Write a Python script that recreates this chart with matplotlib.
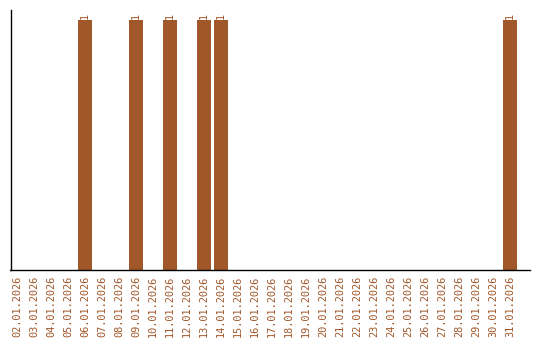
import matplotlib
matplotlib.use("Agg")
import matplotlib.pyplot as plt

dates = ["%02d.01.2026" % d for d in range(2, 32)]
values = [0, 0, 0, 0, 1, 0, 0, 1, 0, 1, 0, 1, 1, 0, 0, 0, 0, 0, 0, 0,
          0, 0, 0, 0, 0, 0, 0, 0, 0, 1]

color = "#A0572A"

fig = plt.figure(figsize=(5.4, 3.4), dpi=100)
ax = fig.add_axes([10.5 / 540, 70 / 340, (530 - 10.5) / 540, 260 / 340])

x = list(range(len(dates)))
bars = ax.bar(x, values, width=0.82, color=color)
for xi, v in zip(x, values):
    if v:
        ax.text(xi, v + 0.006, str(v), rotation=90, ha="center", va="bottom",
                color=color, fontsize=7.4, family="DejaVu Sans Mono")

ax.set_xlim(-0.38, 30.18)
ax.set_ylim(0, 1.04)
ax.set_xticks(x)
ax.set_xticklabels(dates, rotation=90, color=color, fontsize=7.4,
                   family="DejaVu Sans Mono")
ax.tick_params(axis="x", length=0, pad=4)
ax.set_yticks([])
for s in ["top", "right"]:
    ax.spines[s].set_visible(False)
ax.spines["left"].set_linewidth(1)
ax.spines["bottom"].set_linewidth(1)

fig.savefig("out.png", dpi=100)
